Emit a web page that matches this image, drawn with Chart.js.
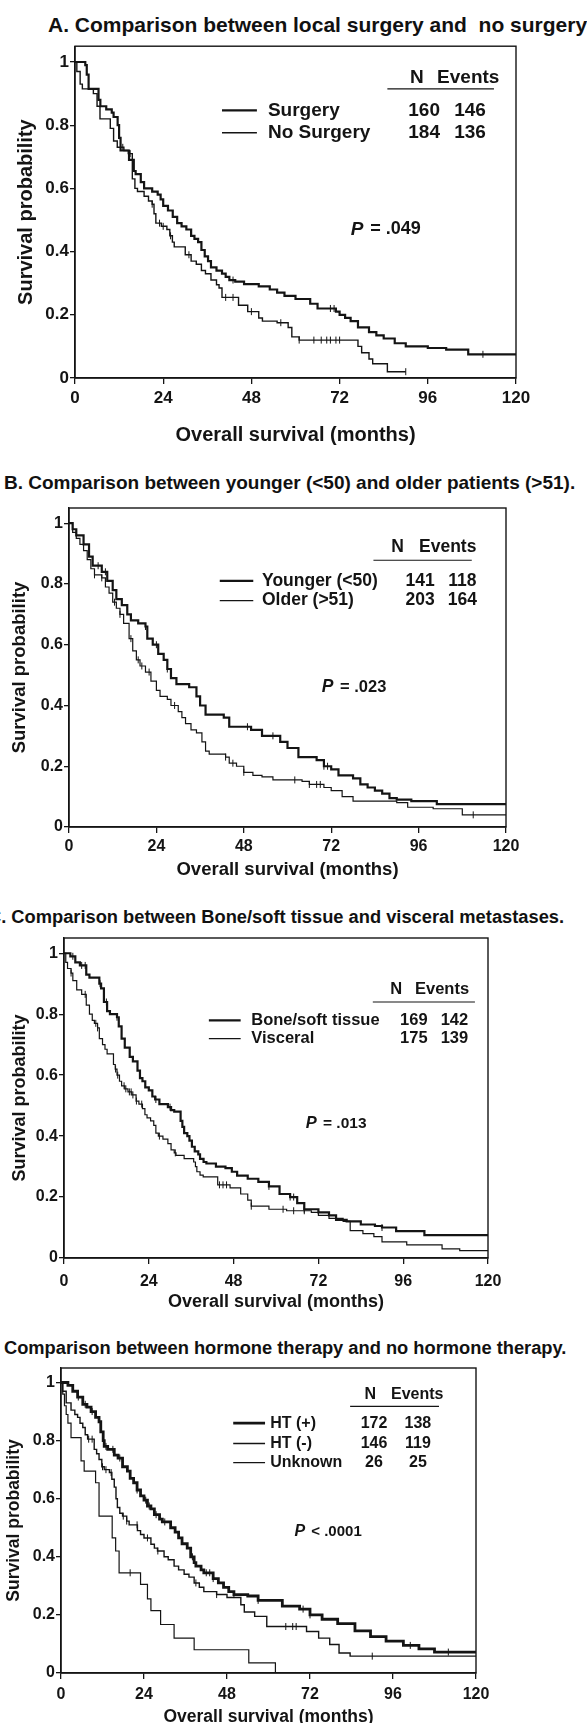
<!DOCTYPE html>
<html>
<head>
<meta charset="utf-8">
<title>Survival curves</title>
<script src="https://cdn.jsdelivr.net/npm/chart.js@4.4.0/dist/chart.umd.min.js"></script>
<style>
  body { margin: 0; background: #fff; width: 587px; height: 1723px; position: relative; overflow: hidden;
         font-family: "Liberation Sans", Arial, sans-serif; color: #111; }
  .ttl { position: absolute; white-space: nowrap; font-weight: bold; line-height: 1.2; }
  .wrap { position: absolute; left: 0; width: 587px; }
</style>
</head>
<body>
<div class="ttl" style="left:48px;top:12px;font-size:21px">A. Comparison between local surgery and&nbsp; no surgery</div>
<div class="wrap" style="top:35px;height:412px"><canvas id="chartA"></canvas></div>

<div class="ttl" style="left:4px;top:472px;font-size:19px">B. Comparison between younger (&lt;50) and older patients (&gt;51).</div>
<div class="wrap" style="top:495px;height:386px"><canvas id="chartB"></canvas></div>

<div class="ttl" style="left:-12px;top:906px;font-size:18.3px">C. Comparison between Bone/soft tissue and visceral metastases.</div>
<div class="wrap" style="top:925px;height:388px"><canvas id="chartC"></canvas></div>

<div class="ttl" style="left:4px;top:1337px;font-size:18.3px">Comparison between hormone therapy and no hormone therapy.</div>
<div class="wrap" style="top:1355px;height:373px"><canvas id="chartD"></canvas></div>

<script>
// axis ticks
const monthTicks = [0, 24, 48, 72, 96, 120];
const probTicks = [0, 0.2, 0.4, 0.6, 0.8, 1];

// ---- A: local surgery vs no surgery  [month, survival]
const surgery = [[0,1],[2.8,0.99],[3.2,0.96],[3.7,0.915],[6.4,0.88],[6.9,0.86],[8.5,0.85],[10,0.84],[10.5,0.826],
  [11.6,0.8],[12,0.76],[12.4,0.72],[14.7,0.69],[16,0.655],[16.5,0.645],[17.9,0.62],[18.8,0.6],[21,0.59],[22.5,0.58],
  [23.3,0.565],[24,0.545],[25.3,0.53],[26.6,0.51],[27.8,0.49],[29,0.48],[30.3,0.47],[31.6,0.45],[32.5,0.44],[33.5,0.43],
  [34.4,0.405],[35.3,0.385],[36.2,0.37],[37,0.35],[38.5,0.34],[40,0.33],[41,0.32],[42,0.31],[43.6,0.305],[46,0.297],
  [50,0.29],[53,0.28],[55,0.27],[57,0.26],[60,0.25],[64,0.235],[66,0.22],[71,0.21],[72,0.2],[73.5,0.19],[75,0.18],
  [77,0.16],[80,0.145],[82,0.135],[84,0.125],[87,0.11],[90,0.1],[96,0.095],[101,0.09],[107,0.075],[120,0.075]];
const noSurgery = [[0,1],[0.5,0.97],[1.4,0.93],[2,0.915],[5,0.9],[6,0.86],[6.8,0.82],[9.6,0.79],[10.5,0.75],[11.5,0.73],
  [13.3,0.72],[14.5,0.71],[15.6,0.63],[16.3,0.6],[17,0.59],[18.8,0.575],[20,0.56],[21,0.55],[21.5,0.52],[22,0.49],
  [23.5,0.48],[25,0.47],[25.8,0.45],[26.5,0.43],[27,0.415],[30,0.39],[31.6,0.37],[33,0.36],[34.4,0.34],[35.5,0.33],
  [37,0.31],[38.5,0.295],[39.2,0.285],[40,0.255],[44.5,0.23],[47,0.21],[50,0.19],[51,0.18],[55,0.175],[58,0.16],
  [59,0.13],[61,0.12],[77,0.1],[78,0.08],[80,0.06],[81,0.045],[85,0.02],[90,0.02]];
const surgeryCens = [43, 69.5, 70.5, 111];
const noSurgeryCens = [13, 15, 21, 23, 24, 26, 31, 41, 43, 48, 56, 61, 65, 67, 68.5, 69.5, 71, 72, 90];
const rowsA = [['Surgery', '160', '146'], ['No Surgery', '184', '136']];

// ---- B: younger vs older
const younger = [[0,1],[1,0.98],[2,0.96],[4,0.93],[5.5,0.89],[6.5,0.86],[9,0.84],[10.5,0.81],[12,0.78],[13,0.75],
  [14.5,0.73],[16,0.7],[17,0.68],[19,0.67],[21,0.66],[21.5,0.62],[23,0.6],[24.5,0.57],[26,0.55],[27,0.52],[28,0.49],
  [29.5,0.47],[33,0.46],[35,0.43],[36,0.4],[37.5,0.37],[42.5,0.36],[44,0.33],[50,0.32],[53,0.3],[58,0.28],[60,0.26],
  [63,0.23],[68,0.22],[70,0.2],[72,0.19],[74,0.17],[78,0.16],[80,0.14],[82,0.13],[84,0.12],[86,0.11],[88,0.095],
  [90,0.09],[94,0.085],[101,0.075],[120,0.075]];
const older = [[0,1],[1,0.97],[2,0.95],[3,0.93],[4,0.91],[5,0.88],[6,0.85],[7,0.83],[9,0.82],[10,0.79],[11,0.77],
  [12,0.74],[13,0.72],[14,0.7],[15,0.67],[16.5,0.62],[17.5,0.58],[18.5,0.55],[19.5,0.53],[21,0.51],[22.5,0.48],
  [24,0.45],[25,0.43],[27,0.42],[28,0.4],[30,0.38],[31,0.36],[32,0.34],[33.5,0.32],[35,0.31],[36.5,0.28],[37.5,0.25],
  [38.5,0.24],[43,0.23],[44,0.21],[46,0.2],[48,0.18],[50.5,0.17],[53,0.165],[56,0.155],[64,0.15],[66,0.14],[70,0.13],
  [72,0.12],[75,0.1],[78,0.085],[90,0.08],[93,0.065],[100,0.06],[108,0.04],[120,0.04]];
const youngerCens = [8, 10, 21, 24, 27, 49, 56, 70, 71];
const olderCens = [7, 9, 12.5, 14, 17, 19, 20, 22, 29, 43, 45, 48, 62, 66, 68, 69, 111];
const rowsB = [['Younger (<50)', '141', '118'], ['Older (>51)', '203', '164']];

// ---- C: bone/soft tissue vs visceral
const bone = [[0,1],[1.8,0.99],[3.2,0.97],[4.5,0.96],[6.3,0.93],[7.2,0.92],[10,0.9],[10.5,0.885],[11.3,0.84],
  [12.2,0.81],[13,0.8],[15,0.79],[15.5,0.76],[16.3,0.72],[17.2,0.69],[18.6,0.66],[19.5,0.645],[20.8,0.615],[21.5,0.59],
  [22.2,0.58],[23,0.56],[24,0.55],[25,0.53],[25.8,0.52],[27,0.505],[29.4,0.495],[30.3,0.485],[31.2,0.48],[33,0.45],
  [33.5,0.43],[34,0.41],[34.9,0.4],[35.5,0.385],[36.2,0.365],[37,0.35],[38,0.34],[38.5,0.325],[39.5,0.315],[40.3,0.31],
  [43,0.3],[45.7,0.295],[47.5,0.283],[49,0.27],[52,0.26],[55,0.25],[58,0.235],[61,0.21],[64,0.2],[66,0.18],[68,0.16],
  [72,0.15],[75,0.14],[77,0.125],[80,0.12],[84,0.11],[88,0.105],[90,0.1],[94,0.088],[102,0.075],[120,0.075]];
const visceral = [[0,1],[0.5,0.97],[1,0.95],[2,0.935],[2.5,0.91],[3.6,0.88],[5,0.865],[6.3,0.83],[7.2,0.8],[8,0.78],
  [8.6,0.77],[9.5,0.755],[10,0.72],[10.9,0.7],[11.6,0.685],[12.2,0.67],[14,0.635],[14.5,0.62],[15,0.6],[15.7,0.58],
  [16.3,0.565],[17.2,0.555],[18.1,0.545],[19.2,0.535],[20.4,0.515],[21.2,0.505],[22.2,0.49],[22.9,0.47],[23.5,0.46],
  [24.5,0.45],[25.4,0.435],[26,0.41],[26.7,0.4],[28,0.39],[29.4,0.375],[30.3,0.355],[31.2,0.345],[31.7,0.337],
  [34,0.326],[36.7,0.315],[37.2,0.3],[37.6,0.283],[38.5,0.272],[39.4,0.266],[43.5,0.24],[47,0.23],[50,0.21],[52,0.19],
  [53,0.17],[58,0.16],[63,0.155],[70,0.15],[72,0.14],[75,0.13],[79,0.12],[81,0.09],[84.6,0.08],[87.7,0.07],[90,0.053],
  [97,0.043],[107,0.03],[112,0.024],[120,0.024]];
const boneCens = [2.5, 5, 6, 10.2, 12, 15, 26, 30, 58, 64, 65, 68, 90];
const visceralCens = [2, 6, 9, 9.5, 14.6, 15.2, 17, 17.5, 18.5, 19, 19.5, 20.5, 22, 27, 31.5, 44, 45, 46, 53, 62, 65, 68];
const rowsC = [['Bone/soft tissue', '169', '142'], ['Visceral', '175', '139']];

// ---- D: hormone therapy
const htPos = [[0,1],[2,0.99],[3.4,0.97],[4.8,0.95],[6.3,0.925],[7.5,0.915],[8.7,0.9],[10,0.88],[11,0.865],[11.5,0.83],
  [12.2,0.8],[12.5,0.78],[13.5,0.77],[15.4,0.75],[16.5,0.74],[17.8,0.71],[19.2,0.695],[20,0.67],[21,0.655],[22,0.63],
  [23,0.61],[24,0.595],[25,0.575],[26,0.565],[27,0.545],[28.5,0.53],[29.3,0.52],[31.7,0.5],[33,0.485],[34,0.465],
  [35,0.445],[36.5,0.43],[37.5,0.4],[38.5,0.38],[39,0.368],[40.5,0.355],[41.3,0.345],[44,0.325],[45.5,0.31],[47,0.295],
  [48.5,0.28],[50,0.27],[54,0.265],[57,0.25],[64,0.23],[69,0.22],[72,0.2],[75.5,0.185],[80,0.17],[85,0.145],
  [89.5,0.125],[94,0.11],[99,0.095],[103.5,0.083],[108,0.072],[120,0.07]];
const htNeg = [[0,1],[0.5,0.97],[1.5,0.93],[2.9,0.905],[4,0.89],[4.8,0.88],[5.5,0.86],[6.3,0.845],[7,0.82],[7.7,0.805],
  [9.6,0.77],[10.3,0.755],[11,0.735],[11.8,0.71],[12.5,0.7],[14,0.69],[14.7,0.667],[15.4,0.64],[15.9,0.6],[16.3,0.57],
  [17,0.55],[17.8,0.54],[19,0.523],[19.7,0.51],[22.1,0.49],[23,0.477],[24,0.465],[26,0.443],[27,0.43],[27.9,0.42],
  [29.8,0.4],[31,0.39],[32.7,0.368],[34,0.355],[35.6,0.34],[37,0.33],[38.5,0.31],[40,0.295],[41.3,0.28],[45,0.27],
  [48,0.26],[52,0.235],[53,0.21],[56,0.195],[59.5,0.16],[71,0.143],[74.5,0.12],[77.7,0.098],[80.4,0.069],
  [83.6,0.058],[120,0.058]];
const htUnknown = [[0,1],[0.5,0.96],[1,0.92],[1.5,0.89],[2,0.86],[2.9,0.81],[5.8,0.73],[6.7,0.695],[10,0.655],[11,0.54],
  [14.8,0.465],[15.8,0.42],[16.8,0.345],[23,0.305],[25,0.255],[26,0.215],[28.8,0.167],[32.7,0.12],[38.5,0.08],
  [54.3,0.035],[62,0]];
const htPosCens = [5, 7, 9, 13, 15, 17, 22, 24.5, 25.5, 27.5, 30, 38, 42, 43, 44, 50, 57, 70, 72, 101, 112];
const htNegCens = [8, 9, 12, 13, 14.5, 18, 19, 22, 25, 28, 39, 45, 65, 67, 68, 90];
const htUnknownCens = [20];
const rowsD = [['HT (+)', '172', '138'], ['HT (-)', '146', '119'], ['Unknown', '26', '25']];

const INK = '#141414';
const FONT = '"Liberation Sans", Arial, sans-serif';

// survival value of a step curve at time t (used to sit censor ticks on the curve)
function survAt(curve, t) {
  let s = curve[0][1];
  for (const [x, y] of curve) {
    if (x <= t) s = y; else break;
  }
  return s;
}

// frame, legend table and P value
const kmExtras = {
  id: 'kmExtras',
  afterDatasetsDraw(chart, args, o) {
    const { ctx, chartArea: a, scales: { x, y } } = chart;
    const px = v => x.getPixelForValue(v);
    const py = v => y.getPixelForValue(v);
    ctx.save();
    ctx.strokeStyle = INK;
    ctx.lineWidth = 1.4;
    ctx.strokeRect(a.left, a.top, a.right - a.left, a.bottom - a.top);

    ctx.fillStyle = INK;
    ctx.font = `bold ${o.size}px ${FONT}`;
    ctx.textBaseline = 'middle';
    ctx.textAlign = 'center';
    ctx.fillText('N', px(o.nHead), py(o.headY));
    ctx.fillText('Events', px(o.evHead), py(o.headY));

    ctx.lineWidth = 1.2;
    ctx.beginPath();
    ctx.moveTo(px(o.ulX[0]), py(o.ulY));
    ctx.lineTo(px(o.ulX[1]), py(o.ulY));
    ctx.stroke();

    o.rows.forEach((r, i) => {
      const yy = py(o.rowY[i]);
      ctx.lineWidth = o.widths[i];
      ctx.beginPath();
      ctx.moveTo(px(o.lineX[0]), yy);
      ctx.lineTo(px(o.lineX[1]), yy);
      ctx.stroke();
      ctx.textAlign = 'left';
      ctx.fillText(r[0], px(o.labelX), yy);
      ctx.textAlign = 'center';
      ctx.fillText(r[1], px(o.nX), yy);
      ctx.fillText(r[2], px(o.evX), yy);
    });

    // P value, italic P
    ctx.textAlign = 'left';
    const x0 = px(o.pX), y0 = py(o.pY);
    ctx.font = `italic bold ${o.size}px ${FONT}`;
    ctx.fillText('P', x0, y0);
    const w = ctx.measureText('P').width;
    ctx.font = `bold ${o.size - 1}px ${FONT}`;
    ctx.fillText(o.pText, x0 + w + 2, y0);
    ctx.restore();
  }
};

function buildPanel(id, p) {
  const datasets = [];
  p.series.forEach(s => {
    datasets.push({
      label: s.name,
      data: s.curve.map(([t, v]) => ({ x: t, y: v })),
      stepped: true,
      borderColor: INK,
      borderWidth: s.width,
      pointRadius: 0,
      fill: false
    });
    datasets.push({
      label: s.name + ' (censored)',
      data: s.cens.map(t => ({ x: t, y: survAt(s.curve, t) })),
      showLine: false,
      pointStyle: 'line',
      pointRotation: 90,
      pointRadius: 3.5,
      pointBorderWidth: 1,
      pointBorderColor: INK
    });
  });

  const tickFont = { family: FONT, size: p.tickSize, weight: 'bold' };
  const titleFont = { family: FONT, size: p.titleSize, weight: 'bold' };

  return new Chart(document.getElementById(id), {
    type: 'line',
    data: { datasets },
    options: {
      responsive: true,
      maintainAspectRatio: false,
      animation: false,
      layout: { padding: { top: p.padTop, right: p.padRight, left: 0, bottom: 0 } },
      plugins: {
        legend: { display: false },
        tooltip: { enabled: false },
        kmExtras: p.legend
      },
      scales: {
        x: {
          type: 'linear',
          min: 0,
          max: 120,
          afterBuildTicks: s => { s.ticks = monthTicks.map(v => ({ value: v })); },
          afterFit: s => { s.height = p.xAxisH; },
          ticks: { font: tickFont, color: INK, padding: p.xTickPad, maxRotation: 0, autoSkip: false },
          grid: { drawOnChartArea: false, drawTicks: true, tickLength: 6, color: INK, lineWidth: 1.3 },
          border: { display: true, color: INK, width: 1.4 },
          title: { display: true, text: 'Overall survival (months)', font: titleFont, color: INK, padding: 0 }
        },
        y: {
          type: 'linear',
          min: 0,
          max: 1.05,
          afterBuildTicks: s => { s.ticks = probTicks.map(v => ({ value: v })); },
          afterFit: s => { s.width = p.yAxisW; },
          ticks: {
            font: tickFont, color: INK, padding: 1,
            callback: v => (v === 0 ? '0' : v === 1 ? '1' : v.toFixed(1))
          },
          grid: { drawOnChartArea: false, drawTicks: true, tickLength: 5, color: INK, lineWidth: 1.3 },
          border: { display: true, color: INK, width: 1.4 },
          title: { display: true, text: 'Survival probability', font: titleFont, color: INK,
                   padding: { top: p.yTitlePad, bottom: 0 } }
        }
      }
    },
    plugins: [kmExtras]
  });
}

buildPanel('chartA', {
  padTop: 7, padRight: 71, yAxisW: 75, xAxisH: 69, xTickPad: 4, yTitlePad: 14,
  tickSize: 17, titleSize: 20,
  series: [
    { name: 'Surgery', curve: surgery, cens: surgeryCens, width: 2.2 },
    { name: 'No Surgery', curve: noSurgery, cens: noSurgeryCens, width: 1.4 }
  ],
  legend: {
    size: 19, rows: rowsA, widths: [2.2, 1.4],
    nHead: 93, nX: 95, evHead: 107, evX: 107.5, headY: 0.95, ulX: [85, 114], ulY: 0.915,
    rowY: [0.847, 0.776], lineX: [40, 49.5], labelX: 52.5,
    pX: 75, pY: 0.47, pText: ' = .049'
  }
});

buildPanel('chartB', {
  padTop: 13, padRight: 81, yAxisW: 69, xAxisH: 54, xTickPad: 4, yTitlePad: 9,
  tickSize: 16, titleSize: 18.5,
  series: [
    { name: 'Younger (<50)', curve: younger, cens: youngerCens, width: 2.2 },
    { name: 'Older (>51)', curve: older, cens: olderCens, width: 1.2 }
  ],
  legend: {
    size: 17.5, rows: rowsB, widths: [2.2, 1.2],
    nHead: 90.2, nX: 96.4, evHead: 104, evX: 108, headY: 0.92, ulX: [83.6, 110.6], ulY: 0.878,
    rowY: [0.81, 0.745], lineX: [41.4, 50.6], labelX: 53,
    pX: 69.4, pY: 0.46, pText: ' = .023'
  }
});

buildPanel('chartC', {
  padTop: 13, padRight: 99, yAxisW: 64, xAxisH: 55, xTickPad: 8, yTitlePad: 9,
  tickSize: 16, titleSize: 18,
  series: [
    { name: 'Bone/soft tissue', curve: bone, cens: boneCens, width: 2.2 },
    { name: 'Visceral', curve: visceral, cens: visceralCens, width: 1.2 }
  ],
  legend: {
    size: 16.5, rows: rowsC, widths: [2.2, 1.2],
    nHead: 94, nX: 99, evHead: 107, evX: 110.5, headY: 0.88, ulX: [87.4, 116.3], ulY: 0.84,
    rowY: [0.78, 0.72], lineX: [41, 50], labelX: 53,
    pX: 68.4, pY: 0.44, pText: ' = .013'
  }
});

buildPanel('chartD', {
  padTop: 13, padRight: 111, yAxisW: 61, xAxisH: 55, xTickPad: 6, yTitlePad: 4,
  tickSize: 16, titleSize: 17.5,
  series: [
    { name: 'HT (+)', curve: htPos, cens: htPosCens, width: 2.8 },
    { name: 'HT (-)', curve: htNeg, cens: htNegCens, width: 1.4 },
    { name: 'Unknown', curve: htUnknown, cens: htUnknownCens, width: 1.2 }
  ],
  legend: {
    size: 16, rows: rowsD, widths: [2.8, 1.4, 1.2],
    nHead: 89.4, nX: 90.5, evHead: 103, evX: 103.2, headY: 0.96, ulX: [83.6, 109.3], ulY: 0.918,
    rowY: [0.86, 0.79, 0.724], lineX: [49.8, 59], labelX: 60.5,
    pX: 67.5, pY: 0.487, pText: ' < .0001'
  }
});
</script>
</body>
</html>
